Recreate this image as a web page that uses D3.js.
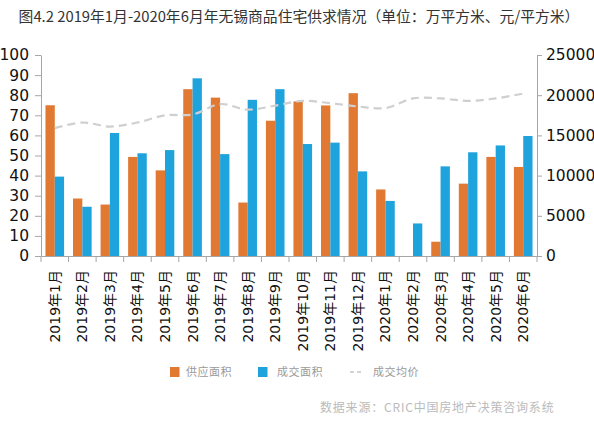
<!DOCTYPE html>
<html><head><meta charset="utf-8">
<script src="https://cdn.jsdelivr.net/npm/d3@7/dist/d3.min.js"></script>
<style>body{margin:0;background:#fff}svg{display:block}</style>
</head><body>
<svg id="c" width="594" height="432"></svg>
<script>
const categories = ["2019年1月","2019年2月","2019年3月","2019年4月","2019年5月","2019年6月","2019年7月","2019年8月","2019年9月","2019年10月","2019年11月","2019年12月","2020年1月","2020年2月","2020年3月","2020年4月","2020年5月","2020年6月"];
const supplyArea = [75,28.6,25.6,49.3,42.6,83,78.8,26.6,67.3,76.9,74.9,81,33.1,0,7.1,36,49.3,44.3];
const dealArea = [39.5,24.5,61.2,51.1,52.7,88.4,50.7,77.7,83,55.7,56.4,42.1,27.4,16.2,44.6,51.6,55,59.7];
const avgPrice = [15900,16600,16100,16600,17500,17600,18900,18200,18700,19300,19000,18600,18400,19600,19600,19300,19600,20200];
const leftTicks = [0,10,20,30,40,50,60,70,80,90,100];
const rightTicks = [0,5000,10000,15000,20000,25000];
const seriesNames = ["供应面积","成交面积","成交均价"];
const title = "图4.2 2019年1月-2020年6月年无锡商品住宅供求情况（单位：万平方米、元/平方米）";
const source = "数据来源：CRIC中国房地产决策咨询系统";

const colors = {supply:"#E27932", deal:"#1FA3DC", line:"#CFCFCF"};
const svg = d3.select("#c");
const L = 41, R = 537, T = 55, B = 256;

svg.append("text").attr("x", 299).attr("y", 22).attr("text-anchor","middle")
  .attr("font-family","'Noto Sans CJK SC'").attr("font-size",14.8).attr("fill","#333").text(title);

const x = d3.scaleBand().domain(categories).range([L, R]).padding(0);
const xi = d3.scaleBand().domain(["supply","deal"]).range([0, x.bandwidth()]).paddingInner(0).paddingOuter(0.48);
const yL = d3.scaleLinear().domain([0,100]).range([B, T]);
const yR = d3.scaleLinear().domain([0,25000]).range([B, T]);

const g = svg.append("g");
categories.forEach((c,i)=>{
  g.append("rect").attr("x", x(c)+xi("supply")).attr("width", xi.bandwidth())
    .attr("y", yL(supplyArea[i])).attr("height", B - yL(supplyArea[i])).attr("fill", colors.supply);
  g.append("rect").attr("x", x(c)+xi("deal")).attr("width", xi.bandwidth())
    .attr("y", yL(dealArea[i])).attr("height", B - yL(dealArea[i])).attr("fill", colors.deal);
});

const line = d3.line().x((d,i)=>x(categories[i])+x.bandwidth()/2).y(d=>yR(d)).curve(d3.curveCatmullRom);
svg.append("path").datum(avgPrice).attr("d", line).attr("fill","none")
  .attr("stroke", colors.line).attr("stroke-width",2.2).attr("stroke-dasharray","8,5");

const axisStyle = sel => {
  sel.selectAll("path,line").attr("stroke","#A6A6A6").attr("stroke-width",1);
  sel.selectAll("text").attr("font-family","'DejaVu Sans'").attr("fill","#111");
};

const ax = svg.append("g").attr("transform",`translate(0,${B})`)
  .call(d3.axisBottom(x).tickValues([]).tickSizeOuter(0));
ax.selectAll(".bt").data(d3.range(categories.length+1)).join("line").attr("class","bt")
  .attr("x1", i=> i<categories.length ? x(categories[i]) : R).attr("x2", i=> i<categories.length ? x(categories[i]) : R)
  .attr("y1",0).attr("y2",6);
axisStyle(ax);
svg.append("g").selectAll("text").data(categories).join("text")
  .attr("transform", d=>`translate(${x(d)+x.bandwidth()/2+5},270) rotate(-90)`)
  .attr("text-anchor","end").attr("font-family","'DejaVu Sans','Noto Sans CJK SC'").attr("font-size",14)
  .attr("fill","#111").text(d=>d);

const axL = svg.append("g").attr("transform",`translate(${L},0)`)
  .call(d3.axisLeft(yL).tickValues(leftTicks).tickSize(6).tickSizeOuter(0).tickPadding(6));
axisStyle(axL); axL.selectAll("text").attr("font-size",15.5);
const axR = svg.append("g").attr("transform",`translate(${R},0)`)
  .call(d3.axisRight(yR).tickValues(rightTicks).tickFormat(d3.format("d")).tickSize(5).tickSizeOuter(0).tickPadding(4));
axisStyle(axR); axR.selectAll("text").attr("font-size",15.5);

const lg = svg.append("g").attr("font-family","'Noto Sans CJK SC'").attr("font-size",11).attr("fill","#9a9a9a");
lg.append("rect").attr("x",170).attr("y",367).attr("width",9.5).attr("height",10).attr("fill",colors.supply);
lg.append("text").attr("x",186).attr("y",376).attr("letter-spacing",0.5).text(seriesNames[0]);
lg.append("rect").attr("x",258).attr("y",367).attr("width",9.5).attr("height",10).attr("fill",colors.deal);
lg.append("text").attr("x",277).attr("y",376).attr("letter-spacing",0.5).text(seriesNames[1]);
lg.append("line").attr("x1",350).attr("x2",364).attr("y1",372).attr("y2",372).attr("stroke","#aaa").attr("stroke-width",1).attr("stroke-dasharray","4,3");
lg.append("text").attr("x",373).attr("y",376).attr("letter-spacing",0.5).text(seriesNames[2]);

svg.append("text").attr("x",320).attr("y",412).attr("font-family","'Noto Sans CJK SC'").attr("font-size",12)
  .attr("letter-spacing",0.8).attr("fill","#bbb").text(source);
</script>
</body></html>
